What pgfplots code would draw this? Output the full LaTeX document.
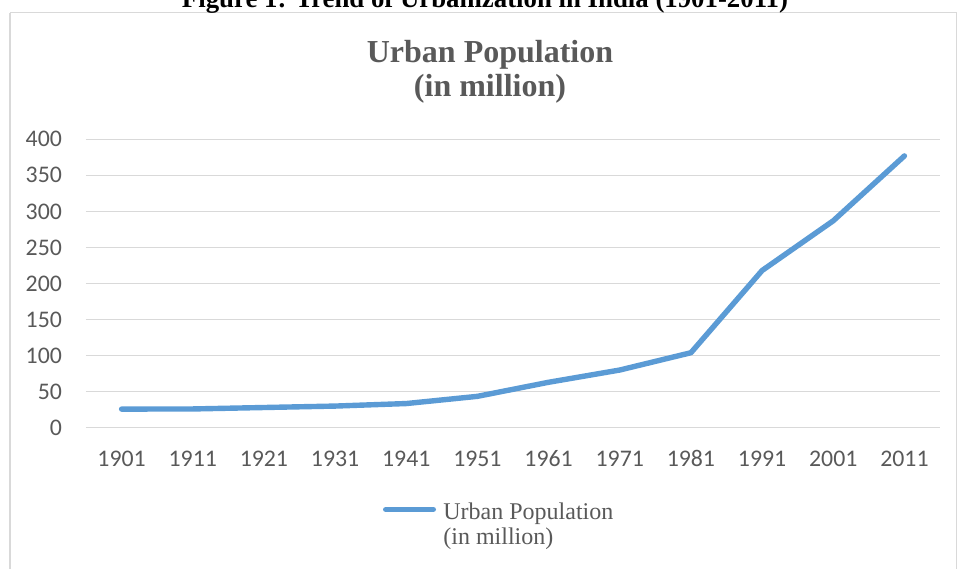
\documentclass[border=0pt]{standalone}
\usepackage{pgfplots}
\pgfplotsset{compat=1.18}
\usepackage{fontspec}
\setmainfont{Liberation Serif}
\newfontfamily\calibri{Carlito}
\definecolor{txtgray}{HTML}{595959}
\definecolor{gridgray}{HTML}{D9D9D9}
\definecolor{lineblue}{HTML}{5B9BD5}
\begin{document}
\begin{tikzpicture}
\useasboundingbox (0,0) rectangle (478.5pt,284pt);
% outer frame
\draw[gridgray, line width=0.6pt] (5pt,277.65pt) -- (478.25pt,277.65pt) -- (478.25pt,-10pt);
\draw[gridgray, line width=0.6pt] (5pt,277.65pt) -- (5pt,-10pt);
% caption (partly cut off at top)
\node[anchor=base, inner sep=0pt] at (242.5pt,280pt) {\fontsize{13.4}{16}\selectfont\bfseries Figure 1: Trend of Urbanization in India (1901-2011)};
% chart title
\node[anchor=base, inner sep=0pt, text=txtgray] at (245pt,252.5pt) {\fontsize{16}{19}\selectfont\bfseries Urban Population};
\node[anchor=base, inner sep=0pt, text=txtgray] at (245pt,235.65pt) {\fontsize{16}{19}\selectfont\bfseries (in million)};
\begin{axis}[
  at={(43pt,70.15pt)}, anchor=south west,
  scale only axis, width=427pt, height=144.2pt,
  xmin=-0.5, xmax=11.5, ymin=0, ymax=400,
  xtick={0,...,11},
  xticklabels={1901,1911,1921,1931,1941,1951,1961,1971,1981,1991,2001,2011},
  ytick={0,50,...,400},
  ymajorgrids, major grid style={gridgray, line width=0.6pt},
  axis line style={draw=none},
  major tick length=0pt,
  /pgf/number format/assume math mode=true,
  tick label style={font=\calibri\fontsize{11.9}{13}\selectfont, text=txtgray, inner sep=0pt},
  xticklabel style={anchor=base},
  yticklabel style={anchor=east},
  xticklabel shift=19.5pt,
  yticklabel shift=11.85pt,
  legend cell align=left,
  legend style={at={(axis description cs:0.3478,-0.257)}, anchor=north west,
    draw=none, fill=none, inner sep=0pt, outer sep=0pt, column sep=3.7pt,
    font=\fontsize{12}{12.5}\selectfont, text=txtgray,
    nodes={inner sep=0pt}},
  legend image code/.code={\draw[#1, line cap=round] (0pt,1.3pt) -- (23.8pt,1.3pt);},
]
\addplot[lineblue, line width=2.7pt, line cap=round, line join=round, no markers]
  coordinates {(0,25.8) (1,26) (2,28) (3,30) (4,33.5) (5,43.5) (6,63) (7,80) (8,104) (9,218) (10,287) (11,377)};
\addlegendentry{\begin{tabular}[t]{@{}l@{}}Urban Population\\(in million)\end{tabular}}
\end{axis}
\end{tikzpicture}
\end{document}
